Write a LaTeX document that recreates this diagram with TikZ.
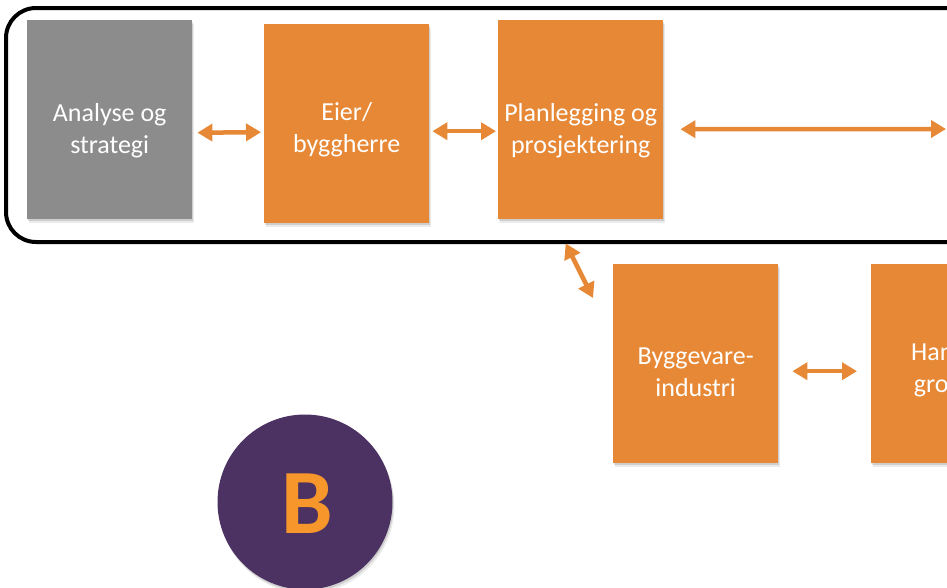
\documentclass[tikz,border=0pt]{standalone}
\usepackage{fontspec}
\setmainfont{Carlito}
\usetikzlibrary{arrows.meta,shadows}
\definecolor{boxorange}{RGB}{230,136,54}
\definecolor{boxgrey}{RGB}{140,140,140}
\definecolor{circpurple}{RGB}{75,50,98}
\definecolor{letterorange}{RGB}{247,150,43}
\tikzset{
  softshadow/.style={
    drop shadow={shadow xshift=1pt, shadow yshift=-2pt, opacity=0.12, fill=black},
    drop shadow={shadow xshift=2pt, shadow yshift=-4pt, opacity=0.08, fill=black}},
  box/.style={rectangle, minimum width=165pt, minimum height=199pt, anchor=north west, inner sep=0pt,
    fill=boxorange, softshadow},
  greybox/.style={box, fill=boxgrey},
  lbl/.style={text=white, align=center, font=\fontsize{26}{32}\selectfont, inner sep=0pt},
  dbl/.style={draw=boxorange, line width=4.5pt, {Triangle[length=15pt,width=17pt]}-{Triangle[length=15pt,width=17pt]}},
  frame/.style={draw=black, line width=4pt, rounded corners=30pt}
}
\begin{document}
\begin{tikzpicture}[x=1pt,y=-1pt]
\useasboundingbox (0,0) rectangle (947,587);
\clip (0,0) rectangle (947,587);
\fill[white] (0,0) rectangle (947,587);
\draw[frame] (6,8) -- (1100,8) -- (1100,242) -- (6,242) -- cycle;

\node[greybox] (grey) at (27,20) {};
\node[box] (eier) at (264,24) {};
\node[box] (plan) at (498,20) {};
\node[box] (bygg) at (613,264) {};
\node[box] (han) at (871,264) {};

\node[lbl] (tgrey) at ([yshift=-11pt]grey.center) {Analyse og\\strategi};
\node[lbl] (teier) at ([yshift=-6pt]eier.center) {Eier/\\byggherre};
\node[lbl] (tplan) at ([yshift=-11pt]plan.center) {Planlegging og\\prosjektering};
\node[lbl] (tbygg) at ([yshift=-9pt]bygg.center) {Byggevare-\\industri};
\node[lbl, anchor=north west] (than) at (911,342) {Handel og\\grossister};

\coordinate (rightend) at (946,129);
\draw[dbl] ([xshift=5pt,yshift=-13pt]grey.east) -- ([xshift=-3pt,yshift=-8.5pt]eier.west);
\draw[dbl] ([xshift=3pt,yshift=-7.5pt]eier.east) -- ([xshift=-2pt,yshift=-11.5pt]plan.west);
\draw[dbl] ([xshift=17pt,yshift=-9.5pt]plan.east) -- (rightend);
\draw[dbl] ([xshift=-15pt,yshift=-24pt]plan.south) -- ([xshift=-20pt,yshift=-34pt]bygg.north west);
\draw[dbl] ([xshift=14pt,yshift=-7.5pt]bygg.east) -- ([xshift=-14pt,yshift=-7.5pt]han.west);

\node[circle, fill=circpurple, minimum size=175pt, inner sep=0pt, softshadow] (circ) at (305,502) {};
\node[text=letterorange, font=\fontsize{92}{92}\bfseries\selectfont, inner sep=0pt] (letter) at ([xshift=2pt,yshift=-2pt]circ.center) {B};
\end{tikzpicture}
\end{document}
